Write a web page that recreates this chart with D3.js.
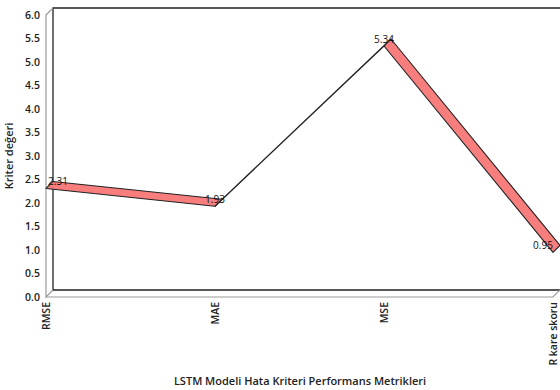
<!DOCTYPE html>
<html>
<head>
<meta charset="utf-8">
<script src="https://cdn.jsdelivr.net/npm/d3@7"></script>
<style>
  html, body { margin: 0; padding: 0; background: #fff; }
  svg { display: block; font-family: "Open Sans", "Noto Sans", sans-serif; }
</style>
</head>
<body>
<svg id="chart" width="560" height="390"></svg>
<script>
// Error metrics of the LSTM model
const categories = ["RMSE", "MAE", "MSE", "R kare skoru"];
const values = [2.31, 1.93, 5.34, 0.95];
const yTicks = [0, 0.5, 1, 1.5, 2, 2.5, 3, 3.5, 4, 4.5, 5, 5.5, 6];
const yTitle = "Kriter değeri";
const xTitle = "LSTM Modeli Hata Kriteri Performans Metrikleri";

const svg = d3.select("#chart");
const W = 560;

// front plane of the 3D box and its depth offset
const plotLeft = 46, plotRight = 553, plotTop = 15, plotBottom = 297;
const dx = 7, dy = -7;

const x = d3.scalePoint().domain(categories).range([plotLeft, plotRight]).padding(0);
const y = d3.scaleLinear().domain([0, 6]).range([plotBottom, plotTop]);

// back wall
const wall = svg.append("g");
wall.append("path")
  .attr("d", `M${plotLeft + dx},${plotBottom + dy} V${plotTop + dy} H${W}`)
  .attr("fill", "none").attr("stroke", "#222").attr("stroke-width", 1.3);
wall.append("line")
  .attr("x1", plotLeft + dx).attr("x2", plotRight + dx)
  .attr("y1", plotBottom + dy).attr("y2", plotBottom + dy)
  .attr("stroke", "#222").attr("stroke-width", 1.3);

// left side wall edge
wall.append("path")
  .attr("d", `M${plotLeft + dx},${plotTop + dy} L${plotLeft},${plotTop} V${plotBottom} L${plotLeft + dx},${plotBottom + dy}`)
  .attr("fill", "none").attr("stroke", "#999").attr("stroke-width", 1.2);
// floor front edge
wall.append("path")
  .attr("d", `M${plotLeft},${plotBottom} H${plotRight} L${plotRight + dx},${plotBottom + dy}`)
  .attr("fill", "none").attr("stroke", "#999").attr("stroke-width", 1.2);

// y axis ticks
const yAxis = svg.append("g")
  .attr("transform", `translate(${plotLeft - 3},0)`)
  .call(d3.axisLeft(y).tickValues(yTicks).tickFormat(d3.format(".1f")).tickSize(0).tickPadding(3));
yAxis.select(".domain").remove();
yAxis.selectAll("text")
  .attr("font-size", 10.5).attr("font-weight", 600).attr("fill", "#222")
  .attr("font-family", "Open Sans, sans-serif");

// x axis categories (rotated)
const xAxis = svg.append("g")
  .attr("transform", `translate(0,${plotBottom + 5})`)
  .call(d3.axisBottom(x).tickSize(0).tickPadding(0));
xAxis.select(".domain").remove();
xAxis.selectAll("text")
  .attr("font-size", 10.5).attr("font-weight", 600).attr("fill", "#222")
  .attr("font-family", "Open Sans, sans-serif")
  .attr("text-anchor", "end")
  .attr("dy", "0.35em")
  .attr("transform", "rotate(-90)")
  .attr("x", 0).attr("y", 0);

// ribbon: one quad per segment between the front and back edges
const pts = categories.map((c, i) => [x(c), y(values[i])]);
const ribbon = svg.append("g");
for (let i = 0; i < pts.length - 1; i++) {
  const [x0, y0] = pts[i], [x1, y1] = pts[i + 1];
  ribbon.append("path")
    .attr("d", `M${x0},${y0} L${x1},${y1} L${x1 + dx},${y1 + dy} L${x0 + dx},${y0 + dy} Z`)
    .attr("fill", "#f87e7e")
    .attr("stroke", "#222")
    .attr("stroke-width", 1.1)
    .attr("stroke-linejoin", "round");
}

// value labels
svg.append("g").selectAll("text")
  .data(values)
  .join("text")
  .attr("x", (d, i) => Math.max(plotLeft + 12, Math.min(plotRight - 10, x(categories[i]))))
  .attr("y", (d, i) => y(d) - 3)
  .attr("text-anchor", "middle")
  .attr("font-size", 10)
  .attr("fill", "#111")
  .text(d => d.toFixed(2));

// axis titles
svg.append("text")
  .attr("transform", `translate(13,${(plotTop + plotBottom) / 2}) rotate(-90)`)
  .attr("text-anchor", "middle")
  .attr("font-size", 11).attr("font-weight", 600).attr("fill", "#222")
  .text(yTitle);

svg.append("text")
  .attr("x", 300).attr("y", 385)
  .attr("text-anchor", "middle")
  .attr("font-size", 11).attr("font-weight", 600).attr("fill", "#222")
  .text(xTitle);
</script>
</body>
</html>
